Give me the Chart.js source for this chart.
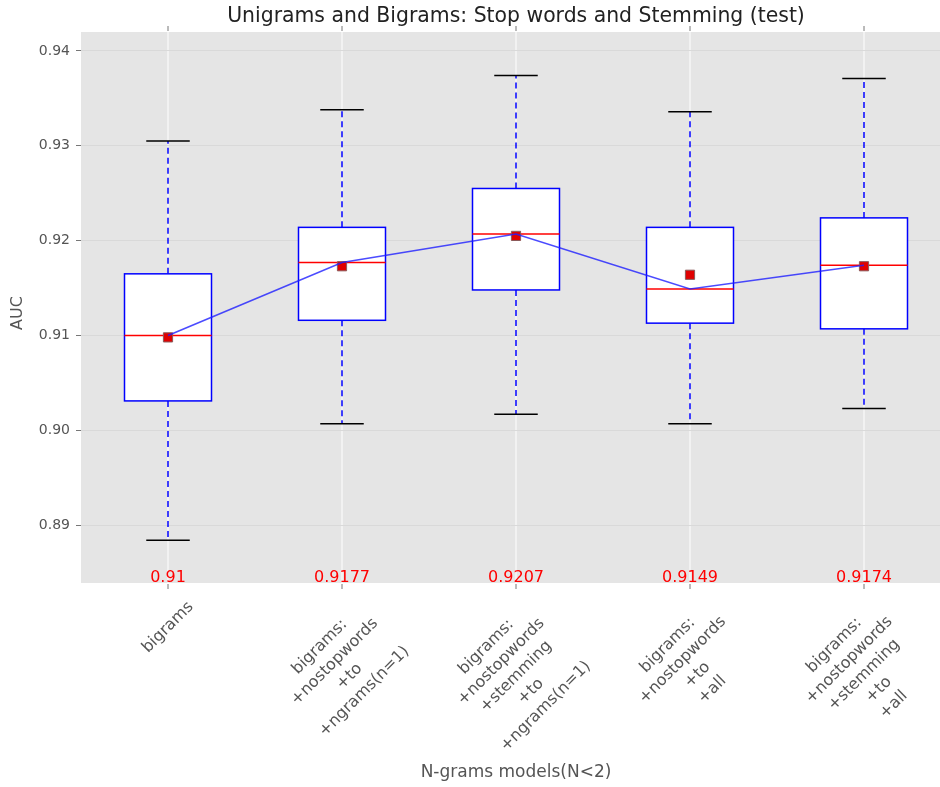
<!DOCTYPE html>
<html>
<head>
<meta charset="utf-8">
<script src="https://cdn.jsdelivr.net/npm/chart.js@4.4.0/dist/chart.umd.min.js"></script>
<style>
  body { margin: 0; background: #fff; overflow: hidden; }
  #wrap { width: 940px; height: 787px; }
</style>
</head>
<body>
<div id="wrap"><canvas id="myChart"></canvas></div>
<script>
let categories = [
    ["bigrams"],
    ["bigrams:", "+nostopwords", "+to", "+ngrams(n=1)"],
    ["bigrams:", "+nostopwords", "+stemming", "+to", "+ngrams(n=1)"],
    ["bigrams:", "+nostopwords", "+to", "+all"],
    ["bigrams:", "+nostopwords", "+stemming", "+to", "+all"]
];
let whiskerLow  = [0.8884, 0.9007, 0.9017, 0.9007, 0.9023];
let q1          = [0.9031, 0.9116, 0.9148, 0.9113, 0.9107];
let medians     = [0.9100, 0.9177, 0.9207, 0.9149, 0.9174];
let q3          = [0.9165, 0.9214, 0.9255, 0.9214, 0.9224];
let whiskerHigh = [0.9305, 0.9338, 0.9374, 0.9336, 0.9371];
let means       = [0.9098, 0.9173, 0.9205, 0.9164, 0.9173];
let medianLabels = ["0.91", "0.9177", "0.9207", "0.9149", "0.9174"];
let yTicks = [0.89, 0.90, 0.91, 0.92, 0.93, 0.94];

let font = "'DejaVu Sans', sans-serif";

let boxPlugin = {
    id: 'boxes',
    beforeDraw(chart) {
        let c = chart.ctx, a = chart.chartArea, xs = chart.scales.x;
        c.save();
        c.fillStyle = '#e5e5e5';
        c.fillRect(a.left, a.top, a.right - a.left, a.bottom - a.top);
        categories.forEach((cat, i) => {
            let px = xs.getPixelForValue(i);
            c.strokeStyle = '#ffffff';
            c.lineWidth = 1;
            c.beginPath();
            c.moveTo(px, a.top);
            c.lineTo(px, a.bottom);
            c.stroke();
            c.strokeStyle = '#777';
            c.beginPath();
            c.moveTo(px, a.top - 6);
            c.lineTo(px, a.top - 1);
            c.moveTo(px, a.bottom + 1);
            c.lineTo(px, a.bottom + 6);
            c.stroke();
        });
        c.restore();
    },
    beforeDatasetsDraw(chart) {
        let c = chart.ctx, a = chart.chartArea, xs = chart.scales.x, ys = chart.scales.y;
        c.save();
        c.beginPath();
        c.rect(a.left, a.top, a.right - a.left, a.bottom - a.top);
        c.clip();
        categories.forEach((cat, i) => {
            let x0 = xs.getPixelForValue(i - 0.25), x1 = xs.getPixelForValue(i + 0.25);
            let xc = xs.getPixelForValue(i);
            let cx0 = xs.getPixelForValue(i - 0.125), cx1 = xs.getPixelForValue(i + 0.125);
            let yLo = ys.getPixelForValue(whiskerLow[i]), yHi = ys.getPixelForValue(whiskerHigh[i]);
            let yQ1 = ys.getPixelForValue(q1[i]), yQ3 = ys.getPixelForValue(q3[i]);
            let yMed = ys.getPixelForValue(medians[i]);
            // whiskers
            c.strokeStyle = '#0000ff';
            c.lineWidth = 1.5;
            c.setLineDash([6, 4]);
            c.beginPath();
            c.moveTo(xc, yQ3); c.lineTo(xc, yHi);
            c.moveTo(xc, yQ1); c.lineTo(xc, yLo);
            c.stroke();
            c.setLineDash([]);
            // caps
            c.strokeStyle = '#000000';
            c.beginPath();
            c.moveTo(cx0, yHi); c.lineTo(cx1, yHi);
            c.moveTo(cx0, yLo); c.lineTo(cx1, yLo);
            c.stroke();
            // box
            c.fillStyle = '#ffffff';
            c.fillRect(x0, yQ3, x1 - x0, yQ1 - yQ3);
            c.strokeStyle = '#0000ff';
            c.strokeRect(x0, yQ3, x1 - x0, yQ1 - yQ3);
            // median
            c.strokeStyle = '#ff0000';
            c.beginPath();
            c.moveTo(x0, yMed); c.lineTo(x1, yMed);
            c.stroke();
        });
        c.restore();
    },
    afterDraw(chart) {
        let c = chart.ctx, a = chart.chartArea, xs = chart.scales.x;
        let mid = (xs.getPixelForValue(-0.5) + xs.getPixelForValue(4.5)) / 2;
        c.save();
        // median value labels
        c.fillStyle = '#ff0000';
        c.font = '16px ' + font;
        c.textAlign = 'center';
        c.textBaseline = 'middle';
        medianLabels.forEach((t, i) => {
            c.fillText(t, xs.getPixelForValue(i), a.bottom - 5);
        });
        // rotated category labels
        c.fillStyle = '#555555';
        c.font = '16px ' + font;
        let lh = 21;
        categories.forEach((lines, i) => {
            let w = Math.max(...lines.map(l => c.measureText(l).width));
            let h = lines.length * lh;
            let half = (w + h) / (2 * Math.SQRT2);
            let px = xs.getPixelForValue(i);
            c.save();
            c.translate(px, a.bottom + 14 + half);
            c.rotate(-Math.PI / 4);
            lines.forEach((l, k) => {
                c.fillText(l, 0, -h / 2 + lh * (k + 0.5));
            });
            c.restore();
        });
        // axis titles
        c.font = '17px ' + font;
        c.fillText('N-grams models(N<2)', mid, 773);
        c.font = '16px ' + font;
        c.save();
        c.translate(18, 313);
        c.rotate(-Math.PI / 2);
        c.fillText('AUC', 0, 0);
        c.restore();
        // title
        c.fillStyle = '#222222';
        c.font = '20.4px ' + font;
        c.fillText('Unigrams and Bigrams: Stop words and Stemming (test)', mid, 17);
        c.restore();
    }
};

let ctx = document.getElementById('myChart').getContext('2d');

let chart = new Chart(ctx, {
    type: 'scatter',
    data: {
        datasets: [{
            type: 'line',
            label: 'medians',
            data: medians.map((v, i) => ({x: i, y: v})),
            borderColor: 'rgba(30, 30, 255, 0.8)',
            borderWidth: 1.6,
            pointRadius: 0,
            fill: false
        }, {
            label: 'means',
            data: means.map((v, i) => ({x: i, y: v})),
            pointStyle: 'rect',
            pointRadius: 6.5,
            backgroundColor: '#e00000',
            borderColor: '#8a5a5a',
            borderWidth: 1
        }]
    },
    options: {
        responsive: true,
        maintainAspectRatio: false,
        animation: false,
        layout: { autoPadding: false, padding: { top: 32, right: 0, bottom: 204, left: 0 } },
        plugins: {
            legend: { display: false },
            tooltip: { enabled: false }
        },
        scales: {
            x: {
                type: 'linear',
                display: false,
                min: -0.5,
                max: -0.5 + 859 / 174
            },
            y: {
                min: 0.8839,
                max: 0.9420,
                afterBuildTicks: s => { s.ticks = yTicks.map(v => ({value: v})); },
                afterFit: s => { s.width = 81; },
                ticks: {
                    color: '#555555',
                    font: { family: font, size: 14 },
                    padding: 6,
                    callback: v => v.toFixed(2)
                },
                grid: {
                    color: '#d9d9d9',
                    tickColor: '#777777',
                    tickLength: 5,
                    offset: false
                },
                border: { display: false }
            }
        }
    },
    plugins: [boxPlugin]
});
</script>
</body>
</html>
